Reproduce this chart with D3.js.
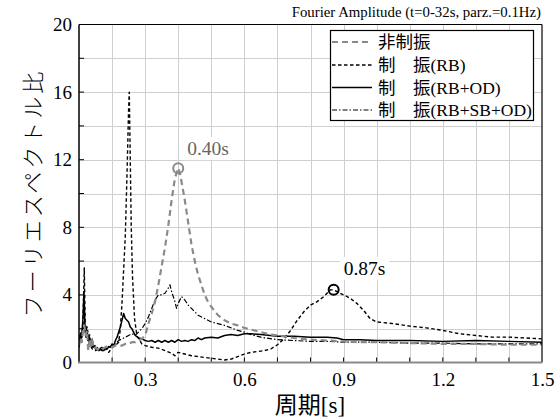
<!DOCTYPE html>
<html>
<head>
<meta charset="utf-8">
<script src="https://cdn.jsdelivr.net/npm/d3@7"></script>
<style>
  body { margin: 0; background: #fff; }
  svg { display: block; }
</style>
</head>
<body>
<svg id="chart" width="560" height="420"></svg>
<script>
// Fourier spectrum ratio vs. period for four damping configurations

const seriesNames = ["非制振", "制　振(RB)", "制　振(RB+OD)", "制　振(RB+SB+OD)"];

// 非制振 (uncontrolled)
const periodsA = [0.100,0.104,0.108,0.112,0.116,0.120,0.124,0.128,0.132,0.136,0.140,0.145,0.150,0.160,0.170,0.180,0.190,0.200,0.210,0.220,0.230,0.240,0.250,0.260,0.270,0.280,0.290,0.300,0.310,0.320,0.330,0.340,0.350,0.360,0.370,0.380,0.390,0.400,0.405,0.410,0.420,0.430,0.440,0.450,0.460,0.470,0.480,0.490,0.500,0.520,0.540,0.560,0.580,0.600,0.620,0.650,0.680,0.700,0.750,0.800,0.850,0.900,0.950,1.000,1.100,1.200,1.300,1.400,1.500];
const valuesA  = [1.0,1.5,1.2,1.8,2.2,1.6,1.9,0.7,1.4,1.0,1.3,0.8,0.9,0.7,0.8,0.9,1.0,0.9,1.0,1.0,1.0,1.1,1.1,1.2,1.2,1.3,1.4,1.6,2.3,2.9,3.6,4.6,5.7,6.8,8.1,9.6,10.9,11.5,11.2,10.7,9.6,8.3,7.0,6.0,5.2,4.6,4.0,3.6,3.3,2.8,2.5,2.3,2.2,2.05,1.95,1.8,1.65,1.6,1.45,1.35,1.3,1.25,1.2,1.2,1.15,1.1,1.1,1.05,1.05];

// 制振(RB)
const periodsB = [0.100,0.104,0.108,0.112,0.116,0.119,0.122,0.126,0.130,0.135,0.140,0.150,0.160,0.170,0.180,0.190,0.200,0.210,0.220,0.225,0.230,0.235,0.240,0.245,0.250,0.252,0.255,0.258,0.262,0.268,0.275,0.290,0.300,0.320,0.340,0.360,0.380,0.390,0.400,0.420,0.440,0.460,0.480,0.500,0.520,0.540,0.560,0.580,0.600,0.620,0.640,0.660,0.680,0.700,0.720,0.740,0.760,0.780,0.800,0.820,0.840,0.860,0.870,0.880,0.900,0.920,0.940,0.960,0.980,1.000,1.050,1.100,1.150,1.200,1.250,1.300,1.350,1.400,1.450,1.500];
const valuesB  = [0.9,1.6,1.2,2.5,5.6,2.0,1.5,1.9,1.2,1.0,0.8,0.7,0.8,0.7,0.9,0.6,0.9,1.0,1.2,2.0,3.5,5.5,7.5,11.0,15.0,16.0,12.0,8.0,5.0,2.6,1.6,1.1,1.0,0.9,0.85,0.7,0.55,0.4,0.6,0.5,0.4,0.35,0.3,0.25,0.2,0.15,0.2,0.35,0.5,0.6,0.65,0.7,0.8,1.05,1.4,1.9,2.5,3.0,3.4,3.6,3.9,4.3,4.3,4.2,4.0,3.8,3.5,3.1,2.6,2.4,2.3,2.15,2.05,1.9,1.7,1.6,1.5,1.5,1.45,1.4];

// 制振(RB+OD)
const periodsC = [0.100,0.103,0.106,0.109,0.112,0.115,0.118,0.121,0.124,0.127,0.130,0.134,0.138,0.142,0.146,0.150,0.155,0.160,0.165,0.170,0.175,0.180,0.185,0.190,0.195,0.200,0.205,0.210,0.215,0.220,0.225,0.230,0.235,0.240,0.245,0.250,0.255,0.260,0.265,0.270,0.280,0.290,0.300,0.310,0.320,0.330,0.340,0.350,0.360,0.370,0.380,0.390,0.400,0.410,0.420,0.430,0.440,0.450,0.460,0.470,0.480,0.500,0.520,0.540,0.560,0.580,0.600,0.620,0.650,0.700,0.750,0.800,0.850,0.880,0.900,0.950,1.000,1.100,1.200,1.300,1.400,1.500];
const valuesC  = [0.9,1.6,1.3,1.8,2.6,4.2,2.2,1.5,1.9,1.3,1.6,1.1,1.3,0.9,1.0,0.8,0.85,0.7,0.8,0.75,0.7,0.85,0.8,0.95,0.9,1.1,1.0,1.3,1.5,1.8,2.1,2.5,2.9,2.6,2.5,2.4,2.1,2.0,1.8,1.6,1.45,1.4,1.3,1.25,1.3,1.2,1.3,1.2,1.3,1.2,1.3,1.2,1.35,1.25,1.3,1.25,1.35,1.3,1.45,1.35,1.45,1.5,1.45,1.6,1.65,1.6,1.7,1.7,1.65,1.55,1.55,1.5,1.5,1.45,1.35,1.35,1.3,1.3,1.25,1.3,1.25,1.2];

// 制振(RB+SB+OD)
const periodsD = [0.100,0.104,0.108,0.112,0.116,0.120,0.124,0.128,0.132,0.136,0.140,0.145,0.150,0.160,0.170,0.180,0.190,0.200,0.210,0.220,0.230,0.240,0.250,0.260,0.270,0.280,0.290,0.300,0.310,0.320,0.330,0.340,0.350,0.360,0.370,0.375,0.380,0.390,0.395,0.400,0.410,0.420,0.430,0.440,0.450,0.460,0.480,0.500,0.520,0.540,0.560,0.580,0.600,0.620,0.650,0.700,0.750,0.800,0.850,0.900,1.000,1.100,1.200,1.300,1.400,1.500];
const valuesD  = [1.2,1.8,1.4,2.0,2.4,1.6,2.2,1.3,1.7,1.0,1.4,0.9,1.0,0.8,0.9,0.75,0.9,1.0,1.1,1.3,1.4,1.5,1.6,1.7,1.6,1.8,2.0,2.3,2.7,3.2,3.7,4.0,4.0,4.1,4.4,4.6,4.2,3.6,3.2,3.5,3.9,3.7,3.4,3.2,3.0,2.8,2.6,2.4,2.3,2.2,2.05,1.9,1.8,1.65,1.5,1.35,1.3,1.25,1.25,1.2,1.2,1.15,1.15,1.1,1.1,1.1];

// Annotated peaks
const peakPeriods = [0.40, 0.87];
const peakValues  = [11.5, 4.3];
const peakLabels  = ["0.40s", "0.87s"];

const xTickValues = [0.3, 0.6, 0.9, 1.2, 1.5];
const yTickValues = [0, 4, 8, 12, 16, 20];

const titleText = "Fourier Amplitude (t=0-32s, parz.=0.1Hz)";
const xLabel = "周期[s]";
const yLabel = "フーリエスペクトル比";

const SERIF = "'Times New Roman', 'Liberation Serif', 'DejaVu Serif', serif";
const MIXED = "'Times New Roman', 'Liberation Serif', 'Noto Sans CJK JP', serif";

// ---- layout ----
const svg = d3.select("#chart");
const L = 79, R = 542, T = 24.5, B = 362.5;
const x = d3.scaleLinear().domain([0.1, 1.5]).range([L, R]);
const y = d3.scaleLinear().domain([0, 20]).range([B, T]);

const styles = [
  { color: "#8a8a8a", width: 2.2, dash: "6,4" },
  { color: "#000", width: 1.4, dash: "3.5,2.5" },
  { color: "#000", width: 1.5, dash: null },
  { color: "#000", width: 1.2, dash: "5,2,1.5,2" }
];
const series = [
  d3.zip(periodsA, valuesA),
  d3.zip(periodsB, valuesB),
  d3.zip(periodsC, valuesC),
  d3.zip(periodsD, valuesD)
];

// grid
const grid = svg.append("g").attr("stroke", "#cfcfcf").attr("stroke-width", 1);
grid.selectAll(".gx").data(d3.range(2, 15).map(i => i / 10))
  .join("line")
  .attr("x1", d => Math.round(x(d)) + 0.5).attr("x2", d => Math.round(x(d)) + 0.5)
  .attr("y1", T).attr("y2", B);
grid.selectAll(".gy").data(d3.range(2, 20, 2))
  .join("line")
  .attr("x1", L).attr("x2", R)
  .attr("y1", d => Math.round(y(d)) + 0.5).attr("y2", d => Math.round(y(d)) + 0.5);

// clip
svg.append("clipPath").attr("id", "plotClip")
  .append("rect").attr("x", L).attr("y", T).attr("width", R - L).attr("height", B - T);

const line = d3.line().x(d => x(d[0])).y(d => y(d[1]));
const plot = svg.append("g").attr("clip-path", "url(#plotClip)");
series.forEach((s, i) => {
  plot.append("path")
    .datum(s)
    .attr("fill", "none")
    .attr("stroke", styles[i].color)
    .attr("stroke-width", styles[i].width)
    .attr("stroke-dasharray", styles[i].dash)
    .attr("stroke-linejoin", "round")
    .attr("d", line);
});
// uncontrolled curve drawn over the others in the dense region
plot.selectAll("path").filter((d, i) => i === 0).raise();

// peak markers
const peakColors = ["#8a8a8a", "#000"];
svg.selectAll(".peak").data(peakPeriods)
  .join("circle")
  .attr("cx", d => x(d))
  .attr("cy", (d, i) => y(peakValues[i]))
  .attr("r", 5)
  .attr("fill", "none")
  .attr("stroke", (d, i) => peakColors[i])
  .attr("stroke-width", 2);

// peak labels with white backing
const labelOffsets = [[9, -13], [10, -15]];
peakPeriods.forEach((p, i) => {
  const g = svg.append("g");
  const t = g.append("text")
    .attr("x", x(p) + labelOffsets[i][0])
    .attr("y", y(peakValues[i]) + labelOffsets[i][1])
    .attr("font-family", SERIF)
    .attr("font-size", 19.5)
    .attr("fill", i === 0 ? "#666" : "#000")
    .text(peakLabels[i]);
  const bb = t.node().getBBox();
  g.insert("rect", "text")
    .attr("x", bb.x - 4).attr("y", bb.y - 1)
    .attr("width", bb.width + 8).attr("height", bb.height + 2)
    .attr("fill", "#fff");
});

// axes
const xAxis = d3.axisBottom(x).tickValues(xTickValues).tickSize(0).tickPadding(10)
  .tickFormat(d3.format(".1f"));
const gx = svg.append("g").attr("transform", `translate(0,${B})`).call(xAxis);
gx.select(".domain").remove();
gx.attr("font-family", SERIF).attr("font-size", 19);
gx.selectAll("text").attr("font-family", SERIF).attr("font-size", 19).attr("fill", "#000");

const yAxis = d3.axisLeft(y).tickValues(yTickValues).tickSize(0).tickPadding(7)
  .tickFormat(d3.format("d"));
const gy = svg.append("g").attr("transform", `translate(${L},0)`).call(yAxis);
gy.select(".domain").remove();
gy.attr("font-family", SERIF).attr("font-size", 19);
gy.selectAll("text").attr("font-family", SERIF).attr("font-size", 19).attr("fill", "#000");

// inward minor ticks
svg.append("g").selectAll("line").data(d3.range(2, 15).map(i => i / 10))
  .join("line")
  .attr("x1", d => x(d)).attr("x2", d => x(d))
  .attr("y1", B).attr("y2", B - 5)
  .attr("stroke", "#000").attr("stroke-width", 1);
svg.append("g").selectAll("line").data(d3.range(2, 20, 2))
  .join("line")
  .attr("x1", L).attr("x2", L + 5)
  .attr("y1", d => y(d)).attr("y2", d => y(d))
  .attr("stroke", "#000").attr("stroke-width", 1);

// frame
svg.append("line").attr("x1", L).attr("x2", R).attr("y1", T).attr("y2", T).attr("stroke", "#000").attr("stroke-width", 1.2);
svg.append("line").attr("x1", R).attr("x2", R).attr("y1", T).attr("y2", B).attr("stroke", "#000").attr("stroke-width", 1.2);
svg.append("line").attr("x1", L).attr("x2", L).attr("y1", T).attr("y2", B).attr("stroke", "#000").attr("stroke-width", 1.5);
svg.append("line").attr("x1", L - 1).attr("x2", R).attr("y1", B).attr("y2", B).attr("stroke", "#8a8a8a").attr("stroke-width", 2.2);

// title
svg.append("text").attr("x", R - 1).attr("y", 17).attr("text-anchor", "end")
  .attr("font-family", SERIF)
  .attr("font-size", 14.8).text(titleText);

// axis labels
svg.append("text").attr("x", 310).attr("y", 413).attr("text-anchor", "middle")
  .attr("font-family", MIXED)
  .attr("font-size", 23).text(xLabel);
svg.append("text")
  .attr("transform", "translate(41,193) rotate(-90)")
  .attr("text-anchor", "middle")
  .attr("font-family", MIXED)
  .attr("font-size", 22).attr("letter-spacing", 3)
  .attr("font-weight", 300)
  .text(yLabel);

// legend
const lg = svg.append("g");
lg.append("rect").attr("x", 330.5).attr("y", 30.5).attr("width", 203).attr("height", 90)
  .attr("fill", "#fff").attr("stroke", "#000").attr("stroke-width", 1.2);
const rowY = [42, 65, 87.5, 110];
seriesNames.forEach((name, i) => {
  lg.append("line")
    .attr("x1", 332).attr("x2", 372)
    .attr("y1", rowY[i]).attr("y2", rowY[i])
    .attr("stroke", styles[i].color)
    .attr("stroke-width", i === 0 ? 1.8 : styles[i].width)
    .attr("stroke-dasharray", styles[i].dash);
  lg.append("text")
    .attr("x", 378).attr("y", rowY[i]).attr("dy", "0.36em")
    .attr("font-family", MIXED)
    .attr("font-size", 17.5)
    .text(name);
});
</script>
</body>
</html>
